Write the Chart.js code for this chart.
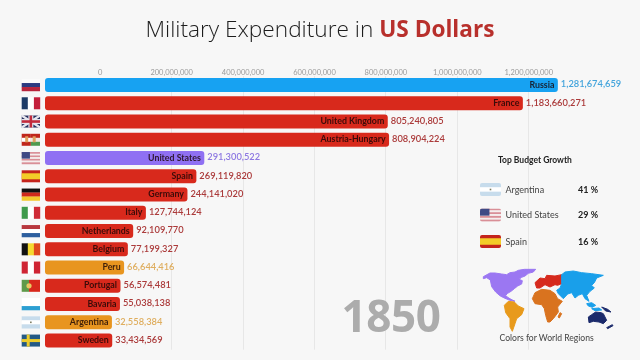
<!DOCTYPE html>
<html><head><meta charset="utf-8">
<script src="https://cdn.jsdelivr.net/npm/chart.js@4"></script>
<style>
html,body{margin:0;padding:0;background:#f7f7f7;width:640px;height:360px;overflow:hidden}
body{position:relative;font-family:Lato,"Open Sans",sans-serif}
#c{position:absolute;left:0;top:0;width:640px;height:360px}
.t{position:absolute;white-space:nowrap;line-height:1}
#title{left:0;width:640px;text-align:center;top:18px;font-size:22.65px;color:#1c1c1c;font-family:"Open Sans",sans-serif;font-weight:300}
#title b{color:#b8302c;font-weight:700}
#year{left:341.5px;top:293px;font-size:44px;font-weight:700;color:#acacac;font-family:"Open Sans",sans-serif;letter-spacing:-.4px}
#map{position:absolute;left:475px;top:262px;width:150px;height:85px}
#map path{stroke-linejoin:round;stroke-width:3}
</style></head><body>
<canvas id="c" width="640" height="360"></canvas>
<div class="t" id="title">Military Expenditure in <b>US Dollars</b></div>
<div class="t" id="year">1850</div>
<div class="t" style="left:498px;top:155.5px;font-size:8.5px;font-weight:700;color:#222">Top Budget Growth</div>
<div id="growth"></div>
<svg id="map" viewBox="0 0 450 255">
<path fill="#9b77f2" stroke="#9b77f2" d="M25,44 45,33 60,33 80,36 95,38 105,32 120,30 130,25 148,22 182,22 175,30 160,34 150,42 140,46 132,52 142,56 140,66 128,72 118,80 108,88 98,94 92,100 98,106 108,112 120,118 105,115 90,109 76,102 62,90 50,74 46,54 35,47 25,50Z"/>
<path fill="#e89a1c" stroke="#e89a1c" d="M88,130 100,118 118,120 130,132 147,140 140,158 125,170 120,185 112,208 105,195 105,170 92,152Z"/>
<path fill="#d9731f" stroke="#d9731f" d="M172,110 180,92 200,82 225,85 240,95 248,110 262,118 248,135 250,150 235,170 225,180 218,180 212,160 208,140 200,128 180,125Z"/>
<path fill="#d9731f" stroke="#d9731f" d="M255,152 260,155 253,168 249,165Z"/>
<path fill="#d62a1d" stroke="#d62a1d" d="M180,62 195,48 210,50 215,40 240,42 260,38 260,65 248,70 240,68 225,75 210,68 195,78 185,78Z"/>
<path fill="#199fea" stroke="#199fea" d="M260,38 270,30 295,27 320,32 350,35 385,40 365,48 358,62 350,70 358,78 345,88 335,100 342,118 330,110 322,95 310,100 300,108 290,92 278,96 265,110 250,95 245,85 255,78 260,65Z"/>
<path fill="#199fea" stroke="#199fea" d="M335,125 350,122 362,130 352,136 340,132Z"/>
<path fill="#199fea" stroke="#199fea" d="M350,140 372,138 380,144 360,146Z"/>
<path fill="#1b2a6b" stroke="#1b2a6b" d="M340,165 350,158 362,150 378,152 385,155 395,175 385,185 372,180 355,178 342,182Z"/>
<path fill="#1b2a6b" stroke="#1b2a6b" d="M380,135 398,142 408,150 392,147Z"/>
<path fill="#1b2a6b" stroke="#1b2a6b" d="M395,197 412,188 414,191 398,200Z"/>
</svg>
<div class="t" style="left:499.5px;top:334px;font-size:8.6px;color:#444">Colors for World Regions</div>
<script>
const categories=["Russia","France","United Kingdom","Austria-Hungary","United States","Spain","Germany","Italy","Netherlands","Belgium","Peru","Portugal","Bavaria","Argentina","Sweden"];
const values=[1281674659,1183660271,805240805,808904224,291300522,269119820,244141020,127744124,92109770,77199327,66644416,56574481,55038138,32558384,33434569];
const regions=["asia","europe","europe","europe","america","europe","europe","europe","europe","europe","south","europe","europe","south","europe"];
const tickValues=[0,200000000,400000000,600000000,800000000,1000000000,1200000000];
const growthNames=["Argentina","United States","Spain"];
const growthPct=["41 %","29 %","16 %"];
const growthRows=[189.5,215,241.5];
const axisMin=-154900000, axisMax=1511800000, barBase=axisMin;
const barColors={asia:"#17a2f2",europe:"#d8291c",america:"#8f70f3",south:"#e8951f"};
const valueColors={asia:"#43a4dc",europe:"#ab3a3a",america:"#8d78e2",south:"#dfae5f"};
const fmt=n=>n.toLocaleString("en-US");
const FW=18.3,FH=12;
function stripesH(g,x,y,w,h,cols){const s=h/cols.length;cols.forEach((c,i)=>{g.fillStyle=c;g.fillRect(x,y+i*s,w,s+.2)})}
function stripesV(g,x,y,w,h,cols){const s=w/cols.length;cols.forEach((c,i)=>{g.fillStyle=c;g.fillRect(x+i*s,y,s+.2,h)})}
const flags={
Russia:(g,x,y,w,h)=>stripesH(g,x,y,w,h,["#fbfbfb","#2c3a80","#b8243c"]),
France:(g,x,y,w,h)=>stripesV(g,x,y,w,h,["#1c3a66","#ffffff","#c4203c"]),
"United Kingdom":(g,x,y,w,h)=>{g.fillStyle="#27305f";g.fillRect(x,y,w,h);g.strokeStyle="#e6e6ee";g.lineWidth=2.2;g.beginPath();g.moveTo(x,y);g.lineTo(x+w,y+h);g.moveTo(x+w,y);g.lineTo(x,y+h);g.stroke();g.fillStyle="#e6e6ee";g.fillRect(x+w/2-2.5,y,5,h);g.fillRect(x,y+h/2-2.5,w,5);g.fillStyle="#c22a3c";g.fillRect(x+w/2-1.3,y,2.6,h);g.fillRect(x,y+h/2-1.3,w,2.6)},
"Austria-Hungary":(g,x,y,w,h)=>{g.fillStyle="#c0261c";g.fillRect(x,y,w/2,h);g.fillStyle="#c0261c";g.fillRect(x+w/2,y,w/2,h/2);g.fillStyle="#fff";g.fillRect(x,y+h/3,w/2,h/3);g.fillStyle="#f3e8e0";g.fillRect(x+w/2,y+h/3,w/2,h/3);g.fillStyle="#4f9a50";g.fillRect(x+w/2,y+2*h/3,w/2,h/3);g.fillStyle="#e0a060";g.fillRect(x+3.5,y+2.5,3,6);g.fillRect(x+11,y+2.5,3,6)},
"United States":(g,x,y,w,h)=>{for(let i=0;i<7;i++){g.fillStyle=i%2?"#f5eded":"#d98f97";g.fillRect(x,y+i*h/7,w,h/7+.2)}g.fillStyle="#3f4a85";g.fillRect(x,y,w*.45,h*.55)},
Spain:(g,x,y,w,h)=>{g.fillStyle="#c4241c";g.fillRect(x,y,w,h);g.fillStyle="#f3cc28";g.fillRect(x,y+h/4,w,h/2)},
Germany:(g,x,y,w,h)=>stripesH(g,x,y,w,h,["#111111","#cf2a1c","#f3c92c"]),
Italy:(g,x,y,w,h)=>stripesV(g,x,y,w,h,["#3f9a4c","#ffffff","#cf2b37"]),
Netherlands:(g,x,y,w,h)=>stripesH(g,x,y,w,h,["#b8383f","#ffffff","#2d5f9f"]),
Belgium:(g,x,y,w,h)=>stripesV(g,x,y,w,h,["#111111","#f5d930","#e04a1c"]),
Peru:(g,x,y,w,h)=>stripesV(g,x,y,w,h,["#cf2433","#ffffff","#cf2433"]),
Portugal:(g,x,y,w,h)=>{g.fillStyle="#5f9a4a";g.fillRect(x,y,w*.4,h);g.fillStyle="#d8281c";g.fillRect(x+w*.4,y,w*.6,h);g.fillStyle="#e8c860";g.beginPath();g.arc(x+w*.4,y+h/2,2.6,0,7);g.fill()},
Bavaria:(g,x,y,w,h)=>stripesH(g,x,y,w,h,["#ffffff","#ffffff","#2c9fd2"]),
Argentina:(g,x,y,w,h)=>{stripesH(g,x,y,w,h,["#c7dcec","#ffffff","#c7dcec"]);g.fillStyle="#7a7a60";g.fillRect(x+w/2-.8,y+h/2-.8,1.6,1.6)},
Sweden:(g,x,y,w,h)=>{g.fillStyle="#235a86";g.fillRect(x,y,w,h);g.fillStyle="#eccc2c";g.fillRect(x+5,y,3,h);g.fillRect(x,y+h/2-1.5,w,3)}
};
const overlay={id:"overlay",afterDatasetsDraw(chart){
 const g=chart.ctx,ys=chart.scales.y,xs=chart.scales.x;
 g.save();
 categories.forEach((name,i)=>{
  const y=ys.getPixelForValue(i),end=xs.getPixelForValue(values[i]);
  flags[name](g,21.7,y-FH/2,FW,FH);
  g.textBaseline="middle";
  g.font='700 8.8px Lato,"Open Sans",sans-serif';g.textAlign="right";g.fillStyle="rgba(25,5,5,.82)";
  g.fillText(name,end-3.5,y-.3);
  g.font='600 9.3px Lato,"Open Sans",sans-serif';g.textAlign="left";g.fillStyle=valueColors[regions[i]];
  g.fillText(fmt(values[i]),end+3,y-.6);
 });
 growthNames.forEach((name,i)=>{
  const y=growthRows[i];
  g.save();g.beginPath();g.roundRect(480,y-6.5,21,13,2);g.clip();flags[name](g,480,y-6.5,21,13);g.restore();
 });
 g.restore();
}};
document.getElementById("growth").innerHTML=growthNames.map((n,i)=>
 `<div class="t" style="left:505.5px;top:${growthRows[i]-5}px;font-size:9px;color:#444">${n}</div>`+
 `<div class="t" style="left:578px;width:20px;text-align:right;top:${growthRows[i]-5}px;font-size:9px;font-weight:700;color:#222">${growthPct[i]}</div>`).join("");
new Chart(document.getElementById("c"),{
 type:"bar",
 data:{labels:categories,datasets:[{data:values.map(v=>[barBase,v]),backgroundColor:regions.map(r=>barColors[r]),borderRadius:3,borderSkipped:false,barPercentage:.77,categoryPercentage:1}]},
 options:{indexAxis:"y",responsive:false,animation:false,events:[],
  layout:{padding:{left:45,right:0,top:56,bottom:10.3}},
  plugins:{legend:{display:false},tooltip:{enabled:false}},
  scales:{
   y:{display:false,grid:{display:false}},
   x:{position:"top",min:axisMin,max:axisMax,
    afterFit(s){s.height=19.9},
    afterBuildTicks(s){s.ticks=tickValues.map(value=>({value}))},
    border:{display:false},
    grid:{drawTicks:false,color:c=>c.tick&&c.tick.value===0?"rgba(0,0,0,0)":"#e7e7e7",lineWidth:1},
    ticks:{padding:-1,autoSkip:false,maxRotation:0,color:"#9a9a9a",font:{family:'Lato,"Open Sans",sans-serif',size:7.5},callback:v=>fmt(v)}
   }
  }
 },
 plugins:[overlay]
});
</script>
</body></html>
